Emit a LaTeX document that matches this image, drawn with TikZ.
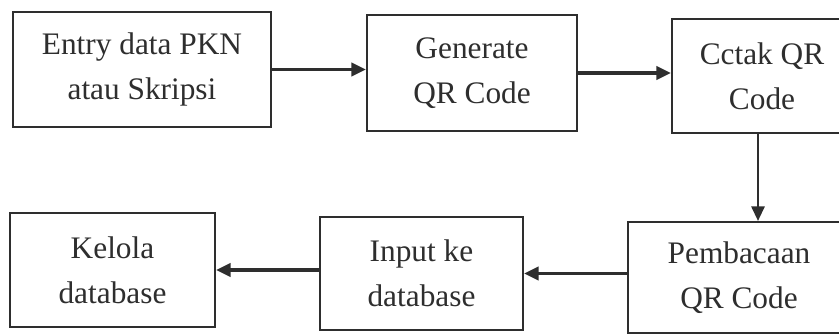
\documentclass[tikz,border=0pt]{standalone}
\usepackage{fontspec}
\setmainfont{Liberation Serif}
\usetikzlibrary{positioning, arrows.meta, calc}
\definecolor{ink}{HTML}{2E2E2E}
\tikzset{
  box/.style={draw=ink, line width=1.6pt, align=center, text=ink, inner sep=2pt,
    font=\fontsize{23.5}{33.5}\selectfont},
  arr/.style={-{Triangle[length=11pt, width=10pt]}, draw=ink, line width=2.6pt},
  varr/.style={arr, line width=1.6pt}
}
\begin{document}
\begin{tikzpicture}[x=0.75pt, y=-0.75pt]
\useasboundingbox (0,0) rectangle (839,335);
\clip (0,0) rectangle (839,335);
\fill[white] (0,0) rectangle (839,335);
% baris atas
\node[box, minimum width=193.5pt, minimum height=86.25pt] (entry) at (142,69.5) {Entry data PKN\\atau Skripsi};
\node[box, minimum width=157.5pt, minimum height=87pt] (gen) at (472,73) {Generate\\QR Code};
\node[box, minimum width=135pt, minimum height=85.5pt] (cetak) at (762,76) {Cctak QR\\Code};
% baris bawah
\node[box, minimum width=166.5pt, minimum height=83.25pt] (baca) at (739,277.5) {Pembacaan\\QR Code};
\node[box, minimum width=152.25pt, minimum height=84.75pt] (input) at (421.5,273.5) {Input ke\\database};
\node[box, minimum width=153.75pt, minimum height=85.5pt] (kelola) at (112.5,270) {Kelola\\database};
\draw[arr] (entry.east) -- (entry.east -| gen.west);
\draw[arr] (gen.east) -- (gen.east -| cetak.west);
\draw[varr] ($(cetak.south)+(-4,0)$) -- ($(cetak.south |- baca.north)+(-4,0)$);
\draw[arr] (baca.west |- input.east) -- (input.east);
\draw[arr] (input.west |- kelola.east) -- (kelola.east);
\end{tikzpicture}
\end{document}
